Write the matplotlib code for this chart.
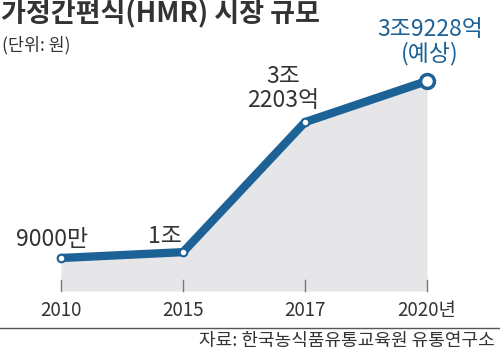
import matplotlib
matplotlib.use("Agg")
import matplotlib.pyplot as plt

plt.rcParams['font.family'] = ['Noto Sans CJK KR', 'DejaVu Sans']

# data (unit: 억 원)
years = ["2010", "2015", "2017", "2020년"]
values = [9000, 10000, 32203, 39228]
labels = ["9000만", "1조", "3조\n2203억", "3조9228억\n(예상)"]

title = "가정간편식(HMR) 시장 규모"
unit = "(단위: 원)"
source = "자료: 한국농식품유통교육원 유통연구소"

blue = "#1d6296"
grey = "#e6e6e9"
dark = "#333333"

fig = plt.figure(figsize=(5, 3.52), dpi=100)
ax = fig.add_axes([0, 0, 1, 1])
x = list(range(len(values)))

ax.fill_between(x, values, 3365, color=grey, lw=0, zorder=1)
ax.plot(x, values, color=blue, lw=6, solid_capstyle="round", zorder=2)
ax.scatter(x[:-1], values[:-1], s=30, color="white", edgecolor=blue, lw=1.5, zorder=3)
ax.scatter(x[-1:], values[-1:], s=100, color="white", edgecolor=blue, lw=2.5, zorder=3)

# tick marks and year labels
for xi, yr in zip(x, years):
    ax.plot([xi, xi], [3365, 5200], color="#777777", lw=1, zorder=2)
    ax.text(xi, 100, yr, ha="center", va="center", fontsize=13.5, color=dark)

offsets = [(-6.5, 13), (-13, 11.5), (-16, 24), (2, 28)]
for xi, v, lab, off in zip(x, values, labels, offsets):
    last = xi == x[-1]
    ax.annotate(lab, (xi, v), xytext=off, textcoords="offset points",
                ha="center", va="center", fontsize=16.5,
                color=blue if last else dark, linespacing=1.05)

ax.set_xlim(-0.5, 3.598)
ax.set_ylim(-7052, 53057)
ax.axis("off")

fig.text(0.002, 0.962, title, fontsize=19.5, fontweight="bold", color=dark, va="center", ha="left")
fig.text(0.004, 0.872, unit, fontsize=12.5, color=dark, va="center", ha="left")
fig.add_artist(plt.Line2D([0, 1], [1 - 328 / 352] * 2, color="#555555", lw=1))
fig.text(0.99, 1 - 341 / 352, source, fontsize=13, color=dark, va="center", ha="right")

fig.savefig("out.png", dpi=100)
